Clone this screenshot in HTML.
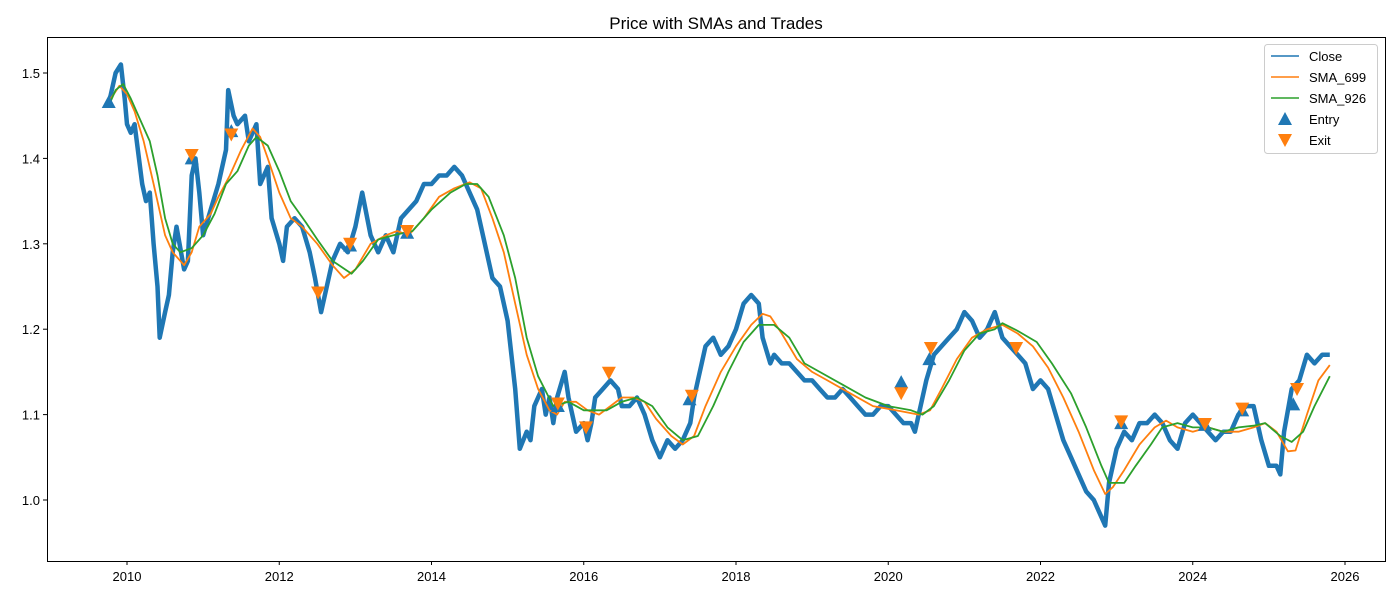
<!DOCTYPE html>
<html><head><meta charset="utf-8"><style>
body{margin:0;background:#fff;}
svg{display:block;font-family:"Liberation Sans","DejaVu Sans",sans-serif;}
</style></head><body>
<svg id="chart" width="1400" height="600">
<rect x="0" y="0" width="1400" height="600" fill="#fff"/>
<text x="716" y="29" text-anchor="middle" font-size="17">Price with SMAs and Trades</text>
<g id="plot"></g>
<rect x="47.5" y="37.5" width="1338" height="524" fill="none" stroke="#000" stroke-width="1"/>
<g id="axes"></g>
<g>
<rect x="1264.5" y="44.5" width="113" height="109" rx="3" fill="#fff" fill-opacity="0.8" stroke="#ccc"/>
<line x1="1271" y1="56" x2="1299" y2="56" stroke="#1f77b4" stroke-width="1.5"/>
<text x="1309" y="61" font-size="13">Close</text>
<line x1="1271" y1="77" x2="1299" y2="77" stroke="#ff7f0e" stroke-width="1.5"/>
<text x="1309" y="82" font-size="13">SMA_699</text>
<line x1="1271" y1="98" x2="1299" y2="98" stroke="#2ca02c" stroke-width="1.5"/>
<text x="1309" y="103" font-size="13">SMA_926</text>
<polygon points="1285,112 1292,125 1278,125" fill="#1f77b4"/>
<text x="1309" y="124" font-size="13">Entry</text>
<polygon points="1278,134 1292,134 1285,147" fill="#ff7f0e"/>
<text x="1309" y="145" font-size="13">Exit</text>
</g>
</svg>
<script>
const closeDates=[2009.75,2009.8,2009.85,2009.92,2009.97,2010.0,2010.05,2010.1,2010.2,2010.25,2010.3,2010.35,2010.4,2010.43,2010.5,2010.55,2010.6,2010.65,2010.75,2010.8,2010.85,2010.9,2010.95,2011.0,2011.1,2011.2,2011.3,2011.33,2011.4,2011.45,2011.55,2011.6,2011.7,2011.75,2011.85,2011.9,2012.0,2012.05,2012.1,2012.2,2012.3,2012.4,2012.47,2012.55,2012.6,2012.7,2012.8,2012.9,2013.0,2013.09,2013.2,2013.3,2013.4,2013.5,2013.6,2013.7,2013.8,2013.9,2014.0,2014.1,2014.2,2014.3,2014.4,2014.5,2014.6,2014.7,2014.8,2014.9,2015.0,2015.05,2015.1,2015.16,2015.25,2015.3,2015.35,2015.45,2015.5,2015.55,2015.6,2015.65,2015.75,2015.8,2015.9,2016.0,2016.05,2016.1,2016.15,2016.25,2016.35,2016.45,2016.5,2016.6,2016.7,2016.8,2016.9,2017.0,2017.1,2017.2,2017.3,2017.4,2017.45,2017.5,2017.55,2017.6,2017.7,2017.8,2017.9,2018.0,2018.1,2018.2,2018.3,2018.35,2018.45,2018.5,2018.6,2018.7,2018.8,2018.9,2019.0,2019.1,2019.2,2019.3,2019.4,2019.5,2019.6,2019.7,2019.8,2019.9,2020.0,2020.1,2020.2,2020.3,2020.35,2020.4,2020.5,2020.6,2020.7,2020.8,2020.9,2021.0,2021.1,2021.2,2021.3,2021.4,2021.5,2021.6,2021.7,2021.8,2021.9,2022.0,2022.1,2022.2,2022.3,2022.4,2022.5,2022.6,2022.7,2022.8,2022.85,2022.9,2023.0,2023.1,2023.2,2023.3,2023.4,2023.5,2023.6,2023.7,2023.8,2023.9,2024.0,2024.1,2024.2,2024.3,2024.4,2024.5,2024.6,2024.7,2024.8,2024.9,2025.0,2025.1,2025.15,2025.2,2025.3,2025.4,2025.5,2025.6,2025.7,2025.8];
const closeValues=[1.46,1.48,1.50,1.51,1.47,1.44,1.43,1.44,1.37,1.35,1.36,1.30,1.25,1.19,1.22,1.24,1.29,1.32,1.27,1.28,1.38,1.40,1.36,1.31,1.34,1.37,1.41,1.48,1.45,1.44,1.45,1.42,1.44,1.37,1.39,1.33,1.30,1.28,1.32,1.33,1.32,1.29,1.26,1.22,1.24,1.28,1.30,1.29,1.32,1.36,1.31,1.29,1.31,1.29,1.33,1.34,1.35,1.37,1.37,1.38,1.38,1.39,1.38,1.36,1.34,1.30,1.26,1.25,1.21,1.17,1.13,1.06,1.08,1.07,1.11,1.13,1.10,1.12,1.09,1.12,1.15,1.12,1.08,1.09,1.07,1.09,1.12,1.13,1.14,1.13,1.11,1.11,1.12,1.10,1.07,1.05,1.07,1.06,1.07,1.09,1.12,1.14,1.16,1.18,1.19,1.17,1.18,1.20,1.23,1.24,1.23,1.19,1.16,1.17,1.16,1.16,1.15,1.14,1.14,1.13,1.12,1.12,1.13,1.12,1.11,1.10,1.10,1.11,1.11,1.10,1.09,1.09,1.08,1.10,1.14,1.17,1.18,1.19,1.20,1.22,1.21,1.19,1.20,1.22,1.19,1.18,1.17,1.16,1.13,1.14,1.13,1.10,1.07,1.05,1.03,1.01,1.00,0.98,0.97,1.02,1.06,1.08,1.07,1.09,1.09,1.10,1.09,1.07,1.06,1.09,1.10,1.09,1.08,1.07,1.08,1.08,1.10,1.11,1.11,1.07,1.04,1.04,1.03,1.08,1.13,1.14,1.17,1.16,1.17,1.17];
const sma699Dates=[2009.75,2009.9,2010.0,2010.1,2010.22,2010.35,2010.5,2010.6,2010.75,2010.85,2010.95,2011.1,2011.2,2011.35,2011.5,2011.65,2011.75,2011.85,2012.0,2012.15,2012.3,2012.5,2012.7,2012.85,2013.0,2013.2,2013.4,2013.55,2013.7,2013.9,2014.1,2014.3,2014.5,2014.65,2014.8,2014.95,2015.1,2015.25,2015.4,2015.55,2015.65,2015.75,2015.9,2016.05,2016.2,2016.35,2016.5,2016.65,2016.8,2016.95,2017.15,2017.3,2017.45,2017.6,2017.8,2018.0,2018.2,2018.35,2018.45,2018.6,2018.8,2019.0,2019.2,2019.5,2019.8,2020.1,2020.4,2020.55,2020.7,2020.9,2021.1,2021.3,2021.5,2021.7,2021.9,2022.1,2022.3,2022.5,2022.7,2022.85,2022.95,2023.1,2023.3,2023.5,2023.65,2023.8,2024.0,2024.2,2024.4,2024.6,2024.8,2024.95,2025.1,2025.25,2025.35,2025.5,2025.65,2025.8];
const sma699Values=[1.465,1.485,1.475,1.455,1.42,1.37,1.31,1.29,1.275,1.29,1.32,1.335,1.355,1.38,1.41,1.435,1.425,1.40,1.36,1.33,1.32,1.30,1.275,1.26,1.27,1.30,1.31,1.315,1.31,1.33,1.355,1.365,1.372,1.365,1.33,1.29,1.23,1.17,1.13,1.105,1.10,1.115,1.115,1.105,1.10,1.11,1.12,1.12,1.115,1.095,1.075,1.065,1.075,1.11,1.15,1.18,1.205,1.218,1.215,1.195,1.165,1.15,1.14,1.125,1.11,1.105,1.10,1.105,1.13,1.165,1.19,1.20,1.205,1.195,1.18,1.155,1.12,1.08,1.035,1.007,1.015,1.035,1.065,1.085,1.093,1.085,1.08,1.085,1.08,1.08,1.085,1.09,1.08,1.057,1.058,1.10,1.14,1.158];
const sma926Dates=[2009.75,2009.85,2009.95,2010.05,2010.15,2010.3,2010.4,2010.5,2010.6,2010.7,2010.85,2011.0,2011.15,2011.3,2011.45,2011.6,2011.7,2011.85,2012.0,2012.15,2012.35,2012.5,2012.7,2012.95,2013.1,2013.3,2013.5,2013.75,2014.0,2014.25,2014.45,2014.6,2014.75,2014.95,2015.1,2015.25,2015.4,2015.6,2015.8,2016.0,2016.3,2016.5,2016.7,2016.9,2017.1,2017.3,2017.5,2017.7,2017.9,2018.1,2018.3,2018.5,2018.7,2018.9,2019.1,2019.4,2019.7,2020.0,2020.3,2020.45,2020.6,2020.8,2021.0,2021.2,2021.4,2021.5,2021.7,2021.95,2022.15,2022.4,2022.6,2022.8,2022.9,2023.1,2023.25,2023.45,2023.6,2023.8,2024.0,2024.2,2024.4,2024.6,2024.8,2024.95,2025.15,2025.3,2025.45,2025.6,2025.8];
const sma926Values=[1.46,1.48,1.487,1.47,1.45,1.42,1.38,1.33,1.30,1.29,1.295,1.31,1.335,1.37,1.385,1.415,1.425,1.415,1.385,1.35,1.325,1.305,1.28,1.265,1.28,1.305,1.31,1.315,1.34,1.36,1.37,1.37,1.355,1.31,1.26,1.19,1.145,1.11,1.115,1.105,1.105,1.115,1.12,1.11,1.085,1.07,1.075,1.11,1.15,1.185,1.205,1.205,1.19,1.16,1.15,1.135,1.12,1.11,1.105,1.10,1.11,1.14,1.175,1.195,1.20,1.207,1.198,1.185,1.16,1.125,1.085,1.04,1.02,1.02,1.04,1.065,1.085,1.09,1.085,1.085,1.08,1.085,1.087,1.09,1.075,1.068,1.08,1.11,1.145];
const entryDates=[2009.76,2010.85,2011.37,2012.93,2013.68,2015.66,2017.39,2020.17,2020.54,2023.06,2024.16,2024.65,2025.32];
const entryValues=[1.466,1.40,1.432,1.298,1.313,1.11,1.118,1.138,1.165,1.09,1.088,1.105,1.112];
const exitDates=[2010.85,2011.37,2012.51,2012.93,2013.68,2015.66,2016.03,2016.33,2017.42,2020.17,2020.56,2021.68,2023.06,2024.16,2024.65,2025.37];
const exitValues=[1.404,1.428,1.243,1.30,1.315,1.113,1.085,1.149,1.122,1.125,1.178,1.178,1.092,1.089,1.107,1.130];
const xTicks=[2010,2012,2014,2016,2018,2020,2022,2024,2026];
const yTicks=[1.0,1.1,1.2,1.3,1.4,1.5];

const NS="http://www.w3.org/2000/svg";
function X(yr){return 127+(yr-2010)*76.125;}
function Y(v){return 500-(v-1.0)*854;}
const plot=document.getElementById('plot'), axes=document.getElementById('axes');
function mk(tag,attrs,parent){const e=document.createElementNS(NS,tag);for(const k in attrs)e.setAttribute(k,attrs[k]);parent.appendChild(e);return e;}
function line(dates,vals,color,w,name){
  const p=mk('polyline',{points:dates.map((d,i)=>X(d).toFixed(1)+','+Y(vals[i]).toFixed(1)).join(' '),fill:'none',stroke:color,'stroke-width':w,'stroke-linejoin':'round'},plot);
  
  
}
line(closeDates,closeValues,'#1f77b4',4.5,'close-line');
line(sma699Dates,sma699Values,'#ff7f0e',1.8,'sma-699-line');
line(sma926Dates,sma926Values,'#2ca02c',1.8,'sma-926-line');
entryDates.forEach((d,i)=>{const x=X(d),y=Y(entryValues[i]);
  const t=mk('polygon',{points:`${x},${y-7} ${x+7},${y+6} ${x-7},${y+6}`,fill:'#1f77b4'},plot);
  
  });
exitDates.forEach((d,i)=>{const x=X(d),y=Y(exitValues[i]);
  const t=mk('polygon',{points:`${x-7},${y-6} ${x+7},${y-6} ${x},${y+7}`,fill:'#ff7f0e'},plot);
  
  });
xTicks.forEach(t=>{const x=X(t);
  mk('line',{x1:x,y1:561,x2:x,y2:565,stroke:'#000'},axes);
  const tx=mk('text',{x:x,y:581,'text-anchor':'middle','font-size':13},axes);tx.textContent=t;
  
  });
yTicks.forEach(t=>{const y=Y(t);
  mk('line',{x1:43,y1:y,x2:47,y2:y,stroke:'#000'},axes);
  const tx=mk('text',{x:40,y:y+5,'text-anchor':'end','font-size':13},axes);tx.textContent=t.toFixed(1);
  
  });
</script>
</body></html>
